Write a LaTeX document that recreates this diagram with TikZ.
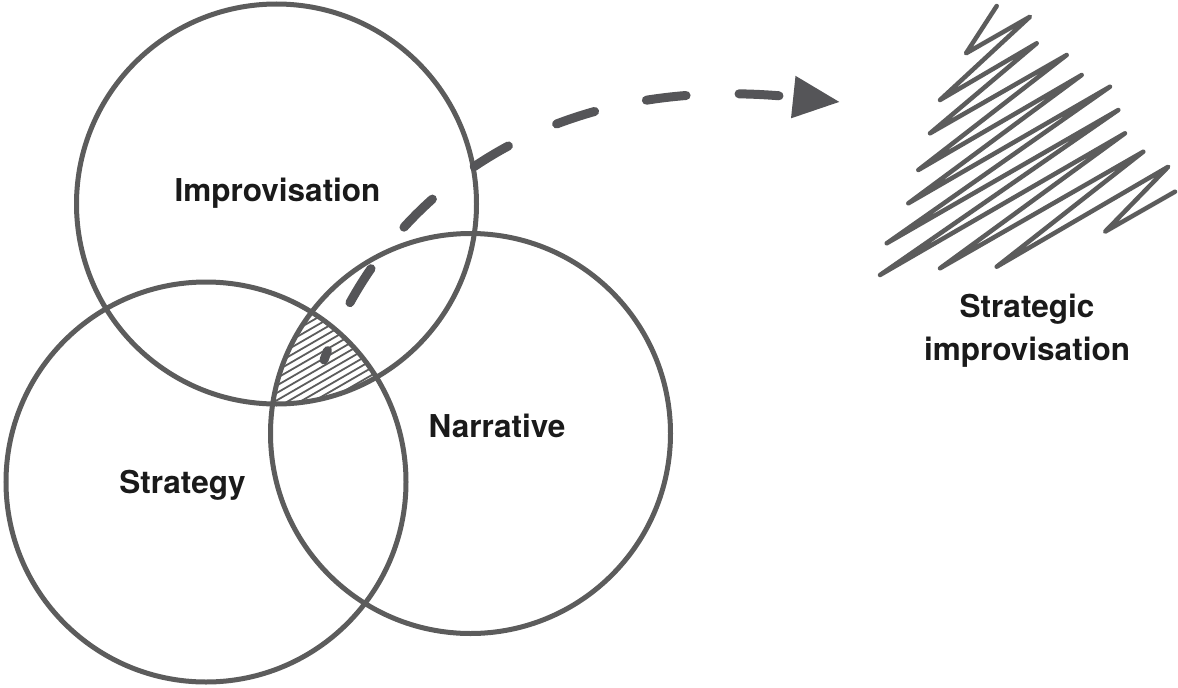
\documentclass[tikz,border=0pt]{standalone}
\usepackage{fontspec}
\setmainfont{TeX Gyre Heros}
\usetikzlibrary{arrows.meta}
\definecolor{ringc}{RGB}{92,92,92}
\definecolor{arrowc}{RGB}{85,85,88}
\definecolor{txtc}{RGB}{26,26,26}
\tikzset{
 ring/.style={circle, draw=ringc, line width=5pt, minimum size=400pt, inner sep=0pt, outer sep=0pt},
 lbl/.style={font=\fontsize{31.5}{43}\selectfont\bfseries, text=txtc, inner sep=0pt},
 scrib/.style={draw=ringc, line width=4.5pt, line join=round, line cap=round},
 hatchline/.style={draw=ringc, line width=1.8pt},
 flow/.style={draw=arrowc, line width=9pt, line cap=round, dash pattern=on 40pt off 53pt, dash phase=30pt, -{Triangle[length=47pt,width=40pt]}}
}
\begin{document}
\begin{tikzpicture}[x=1pt,y=-1pt]
\useasboundingbox (0,0) rectangle (1178,688);
\coordinate (ci) at (276.5,204);
\coordinate (cs) at (206,482);
\coordinate (cn) at (470.5,433.5);
% hatched common region
\begin{scope}
 \clip (ci) circle[radius=200pt];
 \clip (cs) circle[radius=200pt];
 \clip (cn) circle[radius=200pt];
 \foreach \i in {0,...,36}{
   \pgfmathsetmacro{\yy}{290+7.4*\i}
   \pgfmathsetmacro{\yz}{\yy-92.4}
   \draw[hatchline] (250,\yy) -- (410,\yz);
 }
\end{scope}
% circles
\node[ring] (imp) at (ci) {};
\node[ring] (strat) at (cs) {};
\node[ring] (narr) at (cn) {};
% labels
\node[lbl, anchor=base] (limp) at (277.5,201) {Improvisation};
\node[lbl, anchor=base] (lstrat) at (182.5,493) {Strategy};
\node[lbl, anchor=base] (lnarr) at (497,437) {Narrative};
\node[lbl, anchor=base, align=center] (lsi) at (1027,360) {Strategic\\improvisation};
% scribble triangle
\draw[scrib] (996.7,6) -- (966,53.3) -- (1030,16.7) -- (940,100) -- (1036.7,43.3)
  -- (930,133.3) -- (1066.7,55) -- (918.3,170) -- (1081.7,75) -- (908.3,203.3)
  -- (1110,86.7) -- (886.7,243.3) -- (1118.3,110) -- (880,275) -- (1125,133.3)
  -- (940,268.3) -- (1143.3,151.7) -- (996.7,266.7) -- (1168.3,166.7)
  -- (1105,231.7) -- (1175,191.7);
% dashed arrow
\coordinate (core) at (324,360);
\coordinate (target) at (840,102);
\draw[flow] (core) .. controls (380,205) and (537,70) .. (target);
\end{tikzpicture}
\end{document}
